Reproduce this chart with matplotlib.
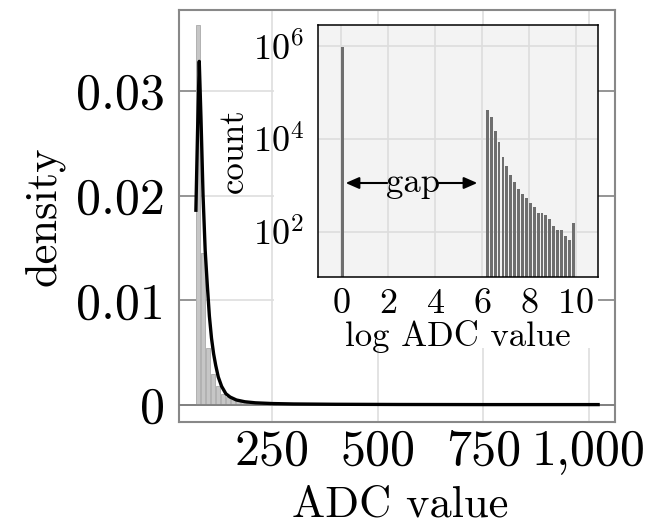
import matplotlib
matplotlib.use("Agg")
import matplotlib.pyplot as plt
from matplotlib.patches import Rectangle
import numpy as np

# ---------------- data ----------------
# main histogram (density), bins of equal width starting at hist_start
hist_start = 69.0
hist_width = 12.0
hist_density = [0.0363, 0.0145, 0.0055, 0.0030, 0.0018, 0.0011, 0.0008,
                0.0006, 0.00045, 0.00035, 0.00028, 0.00023, 0.00019,
                0.00016, 0.00014, 0.00012]

# KDE curve
kde_x = [69, 73, 77, 81, 86, 91, 96, 101, 106, 111, 116, 122, 130, 140,
         150, 165, 185, 210, 250, 300, 400, 550, 750, 900, 1022]
kde_y = [0.0186, 0.0262, 0.0328, 0.0275, 0.0200, 0.0148, 0.0115, 0.0085,
         0.0064, 0.0049, 0.0038, 0.0027, 0.0018, 0.0011, 0.00078, 0.00050,
         0.00033, 0.00023, 0.00016, 0.00012, 0.00009, 0.00007, 0.00006,
         0.00006, 0.00006]

x_ticks = [250, 500, 750, 1000]
x_tick_labels = ["250", "500", "750", "1,000"]
y_ticks = [0, 0.01, 0.02, 0.03]
y_tick_labels = ["0", "0.01", "0.02", "0.03"]

# inset: histogram of log2 ADC values, 60 bins over [0, 10]
inset_nbins = 60
inset_range = (0.0, 10.0)
inset_zero_count = 950000          # bin 0
inset_first_bin = 37               # first non-empty bin of the right group
inset_counts = [42300, 29100, 15100, 8490, 4150, 2610, 1630, 1180, 813, 644,
                520, 422, 346, 253, 253, 229, 183, 131, 106, 110, 81, 65, 157]
inset_x_ticks = [0, 2, 4, 6, 8, 10]
inset_y_ticks = [1e2, 1e4, 1e6]
inset_y_tick_labels = [r"$10^{2}$", r"$10^{4}$", r"$10^{6}$"]

# ---------------- style ----------------
plt.rcParams["font.family"] = ["cmr10", "DejaVu Serif"]
plt.rcParams["mathtext.fontset"] = "cm"
plt.rcParams["axes.unicode_minus"] = False
plt.rcParams["axes.formatter.use_mathtext"] = True

W, H = 648, 528
fig = plt.figure(figsize=(W / 100, H / 100), dpi=100)

def fx(px):
    return px / W

def fy(py):
    return 1 - py / H

# ---------------- main axes ----------------
ax = fig.add_axes([fx(179), fy(422), fx(615) - fx(179), fy(10) - fy(422)])
ax.set_xlim(29, 1062)
ax.set_ylim(-0.0016, 0.0377)

edges = hist_start + hist_width * np.arange(len(hist_density))
ax.bar(edges, hist_density, width=hist_width * 0.8, align="edge",
       color="#c6c6c6", edgecolor="#a9a9a9", linewidth=0.6, zorder=2)
ax.plot(kde_x, kde_y, color="black", lw=2.4, zorder=4)
ax.axhline(0, color="#808080", lw=1.3, zorder=3)

ax.set_xticks(x_ticks)
ax.set_xticklabels(x_tick_labels)
ax.set_yticks(y_ticks)
ax.set_yticklabels(y_tick_labels)
ax.tick_params(axis="x", length=0, labelsize=36, pad=5)
ax.tick_params(axis="y", direction="in", length=12, width=1.1,
               color="#808080", labelsize=36, pad=10, right=True)
ax.grid(True, color="#dedede", lw=1.2, zorder=0)
ax.set_axisbelow(True)
for s in ax.spines.values():
    s.set_color("#888888")
    s.set_linewidth(1.5)
ax.set_xlabel("ADC value", fontsize=32)
ax.set_ylabel("density", fontsize=32)
ax.yaxis.set_label_coords(-0.262, 0.5)
ax.xaxis.set_label_coords(0.508, -0.155)

# white mask behind the inset and its labels
fig.patches.append(Rectangle((fx(274), fy(348)), fx(598) - fx(274),
                             fy(25) - fy(348), transform=fig.transFigure,
                             facecolor="white", edgecolor="none", zorder=5))

# ---------------- inset ----------------
ax2 = fig.add_axes([fx(318), fy(277), fx(598) - fx(318), fy(25) - fy(277)])
ax2.set_zorder(10)
ax2.set_facecolor("#f3f3f3")
bw = (inset_range[1] - inset_range[0]) / inset_nbins
ax2.bar([inset_range[0]], [inset_zero_count], width=bw * 0.75, align="edge",
        color="#6e6e6e", edgecolor="none", zorder=2)
right_edges = inset_range[0] + bw * (inset_first_bin + np.arange(len(inset_counts)))
ax2.bar(right_edges, inset_counts, width=bw * 0.72, align="edge",
        color="#6e6e6e", edgecolor="none", zorder=2)
ax2.set_yscale("log")
ax2.set_xlim(-1.0, 10.95)
ax2.set_ylim(10 ** 1.02, 10 ** 6.46)
ax2.set_xticks(inset_x_ticks)
ax2.set_yticks(inset_y_ticks)
ax2.set_yticklabels(inset_y_tick_labels)
ax2.yaxis.set_minor_locator(matplotlib.ticker.NullLocator())
ax2.tick_params(axis="both", length=0, labelsize=26)
ax2.tick_params(axis="x", pad=8)
ax2.tick_params(axis="y", pad=10)
ax2.grid(True, color="#dddddd", lw=1.2, zorder=0)
ax2.set_axisbelow(True)
for s in ax2.spines.values():
    s.set_color("black")
    s.set_linewidth(1.1)
ax2.set_xlabel("log ADC value", fontsize=25, labelpad=0)
ax2.set_ylabel("count", fontsize=25, labelpad=2)

gap_y = 1120
ax2.text(3.05, gap_y, "gap", fontsize=25, ha="center", va="center", zorder=6)
arrow_kw = dict(arrowstyle="-|>,head_length=0.8,head_width=0.35",
                color="black", lw=1.5, shrinkA=0, shrinkB=0)
ax2.annotate("", xy=(0.18, gap_y), xytext=(1.95, gap_y), arrowprops=arrow_kw)
ax2.annotate("", xy=(5.8, gap_y), xytext=(4.15, gap_y), arrowprops=arrow_kw)

fig.savefig("out.png", dpi=100)
